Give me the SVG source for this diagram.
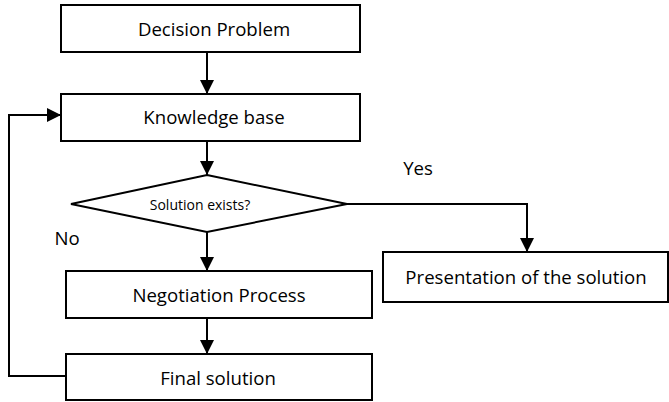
<svg xmlns="http://www.w3.org/2000/svg" width="669" height="402" viewBox="0 0 669 402">
<style>
.box{fill:#fff;stroke:#000;stroke-width:2}
.t{font-family:"Open Sans","Liberation Sans",sans-serif;font-size:18.6px;fill:#000;text-anchor:middle}
.s{font-size:14px}
.ln{fill:none;stroke:#000;stroke-width:2}
</style>
<defs>
<marker id="ah" markerUnits="userSpaceOnUse" markerWidth="16" markerHeight="16" refX="14" refY="7" orient="auto">
<path d="M0,0 L14,7 L0,14 Z" fill="#000"/>
</marker>
</defs>
<g id="connectors">
<line class="ln" x1="207" y1="52" x2="207" y2="94" marker-end="url(#ah)"/>
<line class="ln" x1="207" y1="141" x2="207" y2="175" marker-end="url(#ah)"/>
<line class="ln" x1="207" y1="232" x2="207" y2="271" marker-end="url(#ah)"/>
<line class="ln" x1="207" y1="318" x2="207" y2="354" marker-end="url(#ah)"/>
<polyline class="ln" points="347,204 527,204 527,252" marker-end="url(#ah)"/>
<polyline class="ln" points="66,376 9,376 9,115 61,115" marker-end="url(#ah)"/>
<text class="t" x="418" y="175">Yes</text>
<text class="t" x="67" y="245">No</text>
</g>
<g id="decision-problem">
<rect class="box" x="61" y="5" width="299" height="47"/>
<text class="t" x="214" y="36">Decision Problem</text>
</g>
<g id="knowledge-base">
<rect class="box" x="61" y="94" width="299" height="47"/>
<text class="t" x="214" y="124">Knowledge base</text>
</g>
<g id="solution-exists">
<polygon class="box" points="207,175 347,204 207,232 71,204"/>
<text class="t s" x="200" y="210">Solution exists?</text>
</g>
<g id="negotiation-process">
<rect class="box" x="66" y="271" width="306" height="47"/>
<text class="t" x="219" y="302">Negotiation Process</text>
</g>
<g id="final-solution">
<rect class="box" x="66" y="354" width="306" height="46"/>
<text class="t" x="218" y="385">Final solution</text>
</g>
<g id="presentation">
<rect class="box" x="383" y="252" width="285" height="50"/>
<text class="t" x="526" y="284">Presentation of the solution</text>
</g>
</svg>
